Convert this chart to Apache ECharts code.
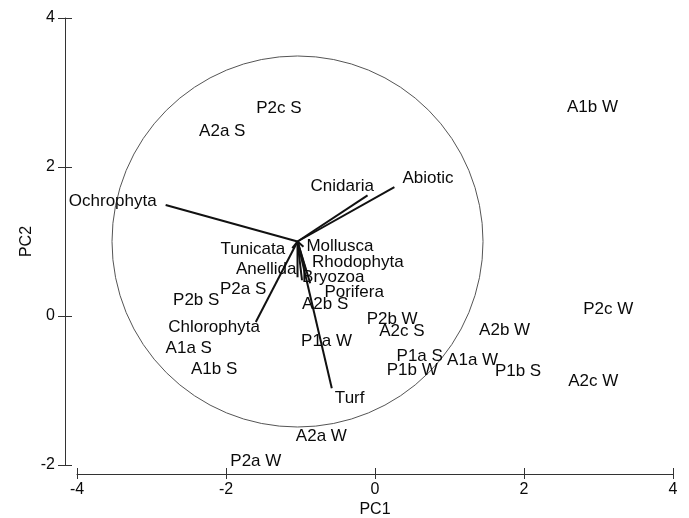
<!DOCTYPE html>
<html>
<head>
<meta charset="utf-8">
<script src="https://cdn.jsdelivr.net/npm/echarts@6/dist/echarts.min.js"></script>
<style>
  html, body { margin: 0; padding: 0; background: #fff; }
  #chart { width: 689px; height: 518px; }
</style>
</head>
<body>
<div id="chart"></div>
<script>
// PCA biplot: sample scores plus variable vectors inside a correlation circle

// Sample scores (label positions on PC1 / PC2)
const sampleNames = ['A1b W', 'P2c S', 'A2a S', 'P2a S', 'P2b S', 'A2b S', 'A1a S', 'A1b S',
  'P1a W', 'P2b W', 'A2c S', 'P1a S', 'P1b W', 'A1a W', 'P1b S', 'A2b W', 'P2c W', 'A2c W',
  'A2a W', 'P2a W'];
const samplePC1 = [2.92, -1.29, -2.05, -1.77, -2.40, -0.67, -2.50, -2.16,
  -0.65, 0.23, 0.36, 0.60, 0.50, 1.31, 1.92, 1.74, 3.13, 2.93,
  -0.72, -1.60];
const samplePC2 = [2.80, 2.79, 2.48, 0.36, 0.21, 0.16, -0.43, -0.71,
  -0.34, -0.05, -0.21, -0.54, -0.73, -0.59, -0.74, -0.19, 0.09, -0.87,
  -1.61, -1.95];

// Variable vectors: common origin, tip coordinates and label positions
const vectorOrigin = [-1.04, 1.0];
const variableNames = ['Ochrophyta', 'Abiotic', 'Cnidaria', 'Tunicata', 'Mollusca', 'Rhodophyta',
  'Anellida', 'Bryozoa', 'Porifera', 'Chlorophyta', 'Turf'];
const vectorPC1 = [-2.81, 0.26, -0.10, -1.11, -0.96, -0.93, -1.04, -0.98, -0.87, -1.60, -0.58];
const vectorPC2 = [1.49, 1.73, 1.62, 0.91, 0.93, 0.62, 0.52, 0.48, 0.44, -0.08, -0.97];
const variableLabelPC1 = [-3.52, 0.71, -0.44, -1.64, -0.47, -0.23, -1.46, -0.56, -0.28, -2.16, -0.34];
const variableLabelPC2 = [1.54, 1.85, 1.74, 0.90, 0.94, 0.72, 0.63, 0.52, 0.32, -0.15, -1.10];

// Circle radius in PC units
const circleRadius = 2.49;

// Axis ranges / ticks
const xTicks = [-4, -2, 0, 2, 4];
const yTicks = [-2, 0, 2, 4];

const FONT = 'Liberation Sans, Arial, sans-serif';
const TEXT_COLOR = '#0a0a0a';

const chart = echarts.init(document.getElementById('chart'), null, { renderer: 'canvas' });

// Each axis is drawn twice (outer + inner ticks) so the tick marks cross the axis line
function axisPair(isX, ticks) {
  const base = {
    type: 'value',
    min: ticks[0],
    max: ticks[ticks.length - 1],
    interval: ticks[1] - ticks[0],
    splitLine: { show: false },
    offset: isX ? 9 : 12,
    position: isX ? 'bottom' : 'left'
  };
  const outer = Object.assign({}, base, {
    name: isX ? 'PC1' : 'PC2',
    nameLocation: 'middle',
    nameGap: isX ? 28 : 30,
    nameMoveOverlap: false,
    nameTextStyle: { fontFamily: FONT, fontSize: 16, color: TEXT_COLOR },
    axisLine: { show: true, onZero: false, lineStyle: { color: '#333333', width: 1 } },
    axisTick: { show: true, inside: false, length: isX ? 5 : 7, lineStyle: { color: '#333333' } },
    axisLabel: { show: true, margin: isX ? 8 : 10, fontFamily: FONT, fontSize: 16, color: TEXT_COLOR }
  });
  const inner = Object.assign({}, base, {
    axisLine: { show: false, onZero: false },
    axisTick: { show: true, inside: true, length: isX ? 6 : 7, lineStyle: { color: '#333333' } },
    axisLabel: { show: false }
  });
  return [outer, inner];
}

const xAxes = axisPair(true, xTicks);
const yAxes = axisPair(false, yTicks);

function textItem(names) {
  return function (params, api) {
    const p = api.coord([api.value(0), api.value(1)]);
    return {
      type: 'text',
      x: p[0], y: p[1],
      style: {
        text: names[params.dataIndex],
        align: 'center', verticalAlign: 'middle',
        font: '17px ' + FONT, fill: TEXT_COLOR
      }
    };
  };
}

const option = {
  animation: false,
  backgroundColor: '#ffffff',
  grid: { left: 77, right: 16, top: 18, bottom: 53, containLabel: false, outerBoundsMode: 'none' },
  xAxis: xAxes,
  yAxis: yAxes,
  series: [
    {
      // correlation circle
      type: 'custom',
      xAxisIndex: 0,
      yAxisIndex: 0,
      data: [[vectorOrigin[0], vectorOrigin[1], circleRadius]],
      renderItem: function (params, api) {
        const c = api.coord([api.value(0), api.value(1)]);
        const r = api.size([api.value(2), 0])[0];
        return {
          type: 'circle',
          shape: { cx: c[0], cy: c[1], r: r },
          style: { fill: 'none', stroke: '#555555', lineWidth: 1 }
        };
      },
      silent: true,
      z: 1
    },
    {
      // variable vectors
      type: 'custom',
      xAxisIndex: 0,
      yAxisIndex: 0,
      data: variableNames.map((n, i) => [vectorPC1[i], vectorPC2[i]]),
      renderItem: function (params, api) {
        const o = api.coord(vectorOrigin);
        const t = api.coord([api.value(0), api.value(1)]);
        return {
          type: 'line',
          shape: { x1: o[0], y1: o[1], x2: t[0], y2: t[1] },
          style: { stroke: '#111111', lineWidth: 2 }
        };
      },
      silent: true,
      z: 2
    },
    {
      // variable names
      type: 'custom',
      xAxisIndex: 0,
      yAxisIndex: 0,
      data: variableNames.map((n, i) => [variableLabelPC1[i], variableLabelPC2[i]]),
      renderItem: textItem(variableNames),
      silent: true,
      z: 3
    },
    {
      // sample labels
      type: 'custom',
      xAxisIndex: 0,
      yAxisIndex: 0,
      data: sampleNames.map((n, i) => [samplePC1[i], samplePC2[i]]),
      renderItem: textItem(sampleNames),
      silent: true,
      z: 3
    }
  ]
};

chart.setOption(option);
</script>
</body>
</html>
